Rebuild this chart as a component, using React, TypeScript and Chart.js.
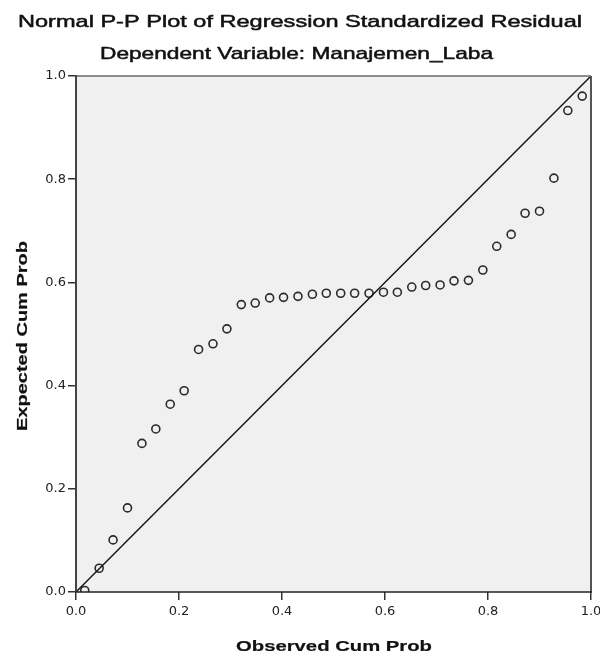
import React, { useEffect, useRef } from "react";
import { Chart, registerables } from "chart.js";

Chart.register(...registerables);

// Observed cumulative probability (x) and expected cumulative probability (y)
const observedCumProb = [
  0.017, 0.045, 0.072, 0.1, 0.128, 0.155, 0.183, 0.21, 0.238, 0.266, 0.293, 0.321,
  0.348, 0.376, 0.403, 0.431, 0.459, 0.486, 0.514, 0.541, 0.569, 0.597, 0.624, 0.652,
  0.679, 0.707, 0.734, 0.762, 0.79, 0.817, 0.845, 0.872, 0.9, 0.928, 0.955, 0.983,
];
const expectedCumProb = [
  0.003, 0.046, 0.101, 0.163, 0.288, 0.316, 0.364, 0.39, 0.47, 0.481, 0.51, 0.557,
  0.56, 0.57, 0.571, 0.573, 0.577, 0.579, 0.579, 0.579, 0.579, 0.581, 0.581, 0.591,
  0.594, 0.595, 0.603, 0.604, 0.624, 0.67, 0.693, 0.734, 0.738, 0.802, 0.933, 0.961,
];
const diagonalX = [0, 1];
const diagonalY = [0, 1];
const tickValues = [0, 0.2, 0.4, 0.6, 0.8, 1.0];

const titleText = "Normal P-P Plot of Regression Standardized Residual";
const subtitleText = "Dependent Variable: Manajemen_Laba";
const xTitleText = "Observed Cum Prob";
const yTitleText = "Expected Cum Prob";

function drawStretched(
  ctx: CanvasRenderingContext2D,
  text: string,
  x: number,
  y: number,
  targetW: number,
  font: string,
  rotate: boolean,
  strokeW: number
) {
  ctx.save();
  ctx.font = font;
  const w = ctx.measureText(text).width;
  const sx = targetW / w;
  ctx.translate(x, y);
  if (rotate) ctx.rotate(-Math.PI / 2);
  ctx.scale(sx, 1);
  ctx.textAlign = "center";
  ctx.textBaseline = "alphabetic";
  ctx.fillStyle = "#111";
  ctx.fillText(text, 0, 0);
  if (strokeW > 0) {
    ctx.strokeStyle = "#111";
    ctx.lineWidth = strokeW;
    ctx.lineJoin = "round";
    ctx.strokeText(text, 0, 0);
  }
  ctx.restore();
}

const framePlugin = {
  id: "ppFrame",
  beforeDraw(chart: any) {
    const { ctx, chartArea: a, width, height } = chart;
    ctx.save();
    ctx.fillStyle = "#ffffff";
    ctx.fillRect(0, 0, width, height);
    ctx.fillStyle = "#f0f0f0";
    ctx.fillRect(a.left, a.top, a.right - a.left, a.bottom - a.top);
    ctx.restore();
  },
  afterDraw(chart: any) {
    const { ctx, chartArea: a } = chart;
    ctx.save();
    ctx.lineWidth = 2;
    ctx.strokeStyle = "#8c8c8c";
    ctx.beginPath();
    ctx.moveTo(a.left, a.top);
    ctx.lineTo(a.right, a.top);
    ctx.stroke();
    ctx.strokeStyle = "#555";
    ctx.beginPath();
    ctx.moveTo(a.right, a.top);
    ctx.lineTo(a.right, a.bottom);
    ctx.stroke();
    ctx.strokeStyle = "#444";
    ctx.beginPath();
    ctx.moveTo(a.left, a.top - 1);
    ctx.lineTo(a.left, a.bottom);
    ctx.stroke();
    ctx.strokeStyle = "#222";
    ctx.lineWidth = 1.5;
    ctx.beginPath();
    ctx.moveTo(a.left, a.bottom);
    ctx.lineTo(a.right + 1, a.bottom);
    ctx.stroke();
    ctx.restore();

    const cx = (a.left + a.right) / 2;
    const cy = (a.top + a.bottom) / 2;
    drawStretched(ctx, titleText, 300, 26.7, 564, "17px 'Liberation Sans', Arial, sans-serif", false, 0.5);
    drawStretched(ctx, subtitleText, 296.5, 59.3, 393, "17px 'Liberation Sans', Arial, sans-serif", false, 0.5);
    drawStretched(ctx, xTitleText, cx + 0.5, 651, 196, "bold 15px 'Liberation Sans', Arial, sans-serif", false, 0.2);
    drawStretched(ctx, yTitleText, 26.5, cy + 2, 190, "bold 15px 'Liberation Sans', Arial, sans-serif", true, 0.2);
  },
};

export default function App() {
  const canvasRef = useRef<HTMLCanvasElement | null>(null);

  useEffect(() => {
    if (!canvasRef.current) return;
    const points = observedCumProb.map((x, i) => ({ x, y: expectedCumProb[i] }));
    const diag = diagonalX.map((x, i) => ({ x, y: diagonalY[i] }));

    const tickFont = { family: "'DejaVu Sans', sans-serif", size: 13 };
    const setTicks = (s: any) => {
      s.ticks = tickValues.map((v) => ({ value: v }));
    };

    const chart = new Chart(canvasRef.current, {
      type: "scatter",
      data: {
        datasets: [
          {
            label: "Diagonal",
            data: diag,
            showLine: true,
            borderColor: "#111",
            borderWidth: 1.4,
            pointRadius: 0,
            pointHoverRadius: 0,
            clip: 0,
          } as any,
          {
            label: "Residual",
            data: points,
            pointStyle: "circle",
            pointRadius: 4,
            pointHoverRadius: 4,
            pointBorderWidth: 1.6,
            borderColor: "#2a2a2a",
            backgroundColor: "rgba(0,0,0,0)",
            showLine: false,
            clip: 0,
          } as any,
        ],
      },
      options: {
        animation: false,
        responsive: false,
        maintainAspectRatio: false,
        events: [],
        layout: { padding: { top: 76, right: 9, left: 0, bottom: 0 } },
        plugins: {
          legend: { display: false },
          tooltip: { enabled: false },
          title: { display: false },
        },
        scales: {
          x: {
            type: "linear",
            min: 0,
            max: 1,
            afterBuildTicks: setTicks,
            afterFit: (s: any) => {
              s.height = 64;
              s.paddingLeft = 0;
              s.paddingRight = 0;
            },
            border: { display: false },
            grid: {
              drawOnChartArea: false,
              drawTicks: true,
              tickLength: 8,
              color: "#333",
              lineWidth: 1.5,
            },
            ticks: {
              font: tickFont,
              color: "#222",
              padding: 4,
              maxRotation: 0,
              autoSkip: false,
              callback: (v: any) => Number(v).toFixed(1),
            },
          },
          y: {
            type: "linear",
            min: 0,
            max: 1,
            afterBuildTicks: setTicks,
            afterFit: (s: any) => {
              s.width = 76;
              s.paddingTop = 0;
              s.paddingBottom = 0;
            },
            border: { display: false },
            grid: {
              drawOnChartArea: false,
              drawTicks: true,
              tickLength: 8,
              color: "#333",
              lineWidth: 1.5,
            },
            ticks: {
              font: tickFont,
              color: "#222",
              padding: 2,
              autoSkip: false,
              callback: (v: any) => Number(v).toFixed(1),
            },
          },
        },
      },
      plugins: [framePlugin],
    });

    return () => chart.destroy();
  }, []);

  return (
    <div style={{ position: "fixed", left: 0, top: 0, width: 600, height: 656, overflow: "hidden", background: "#fff" }}>
      <canvas ref={canvasRef} width={600} height={656} style={{ display: "block" }} />
    </div>
  );
}
